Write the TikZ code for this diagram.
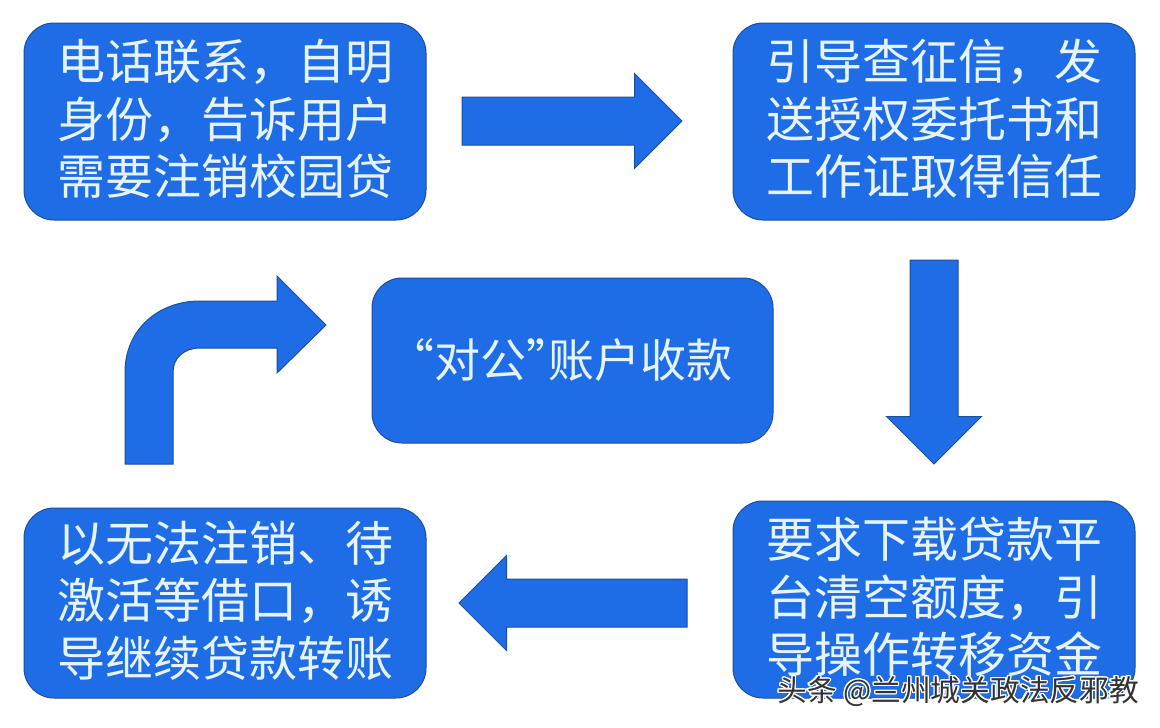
\documentclass[tikz,border=0pt]{standalone}
\usepackage{fontspec}
\usepackage[copies]{contour}
\newfontfamily\cjk{Noto Sans CJK SC}
\usetikzlibrary{shapes.arrows}
\definecolor{boxblue}{HTML}{1F6DE6}
\definecolor{edgeblue}{HTML}{1B4F9E}
\definecolor{textwhite}{HTML}{E6F4FF}
\tikzset{
  flowbox/.style={draw=edgeblue,fill=boxblue,line width=1pt,rounded corners=30pt,inner sep=0pt,
    text=textwhite,align=center,text depth=9pt,font=\cjk\fontsize{48}{57.5}\selectfont},
  blockarrow/.style={single arrow,draw=edgeblue,fill=boxblue,line width=1pt,inner sep=23.5pt,
    minimum width=95pt,single arrow head extend=23.5pt,single arrow tip angle=90,anchor=tail,outer sep=0pt}
}
\newcommand{\openq}{\makebox[22pt][r]{“}}
\newcommand{\closeq}{\makebox[22pt][l]{”}}
\begin{document}
\begin{tikzpicture}[x=1pt,y=-1pt]
\useasboundingbox[fill=white] (0,0) rectangle (1160,728);
\node [flowbox,minimum width=402pt,minimum height=197pt] (contact) at (225,121.5)
  {电话联系，自明\\身份，告诉用户\\需要注销校园贷};
\node [flowbox,minimum width=402pt,minimum height=197pt] (credit) at (934,121.5)
  {引导查征信，发\\送授权委托书和\\工作证取得信任};
\node [flowbox,minimum width=401pt,minimum height=165pt,text depth=4pt,font=\cjk\fontsize{46}{52}\selectfont] (account) at (572.5,360.5)
  {\openq 对公\closeq 账户收款};
\node [flowbox,minimum width=402pt,minimum height=197pt] (loan) at (934,599.5)
  {要求下载贷款平\\台清空额度，引\\导操作转移资金};
\node [flowbox,minimum width=402pt,minimum height=190pt] (excuse) at (225,603)
  {以无法注销、待\\激活等借口，诱\\导继续贷款转账};
\node [blockarrow,minimum height=220pt] (arrowa) at (462,121) {};
\node [blockarrow,minimum height=204pt,shape border rotate=270] (arrowb) at (934,260) {};
\node [blockarrow,minimum height=228pt,shape border rotate=180] (arrowc) at (687,603) {};
\draw [draw=edgeblue,fill=boxblue,line width=1pt] (125,464) -- (125,372)
  .. controls (125,330) and (158,301) .. (200,301) -- (277,301) -- (277,276) -- (326,325)
  -- (277,373) -- (277,348) -- (200,348) .. controls (184,348) and (173,358) .. (173,372)
  -- (173,464) -- cycle;
\contourlength{1.2pt}
\node [inner sep=0pt,anchor=east,text=black!80,font=\cjk\fontsize{29.7}{32}\selectfont] (mark) at (1139,692)
  {\contour{white}{头条 @兰州城关政法反邪教}};
\end{tikzpicture}
\end{document}
